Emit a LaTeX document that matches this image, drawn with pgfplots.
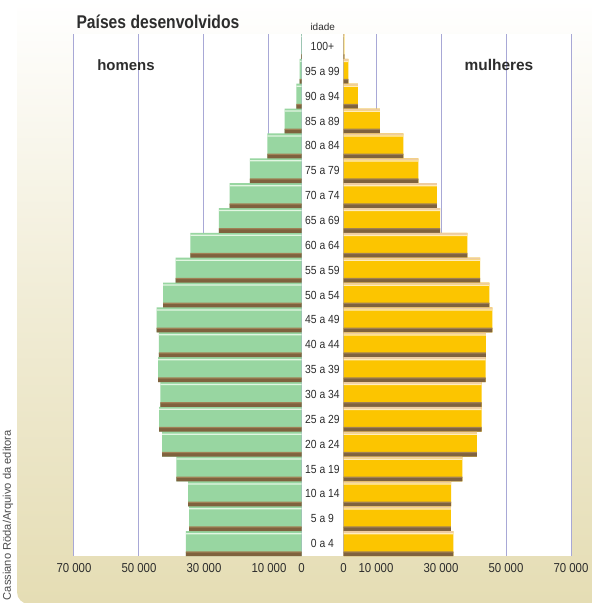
\documentclass[border=0pt]{standalone}
\usepackage{pgfplots}
\pgfplotsset{compat=1.18}
\usepackage{pgfplotstable}
\usepackage{fontspec}
\setmainfont{Liberation Sans}
\newfontfamily\narrow[FakeStretch=0.88]{Liberation Sans}
\newfontfamily\cond[FakeStretch=0.85]{Liberation Sans}

\definecolor{gmain}{RGB}{152,214,161}
\definecolor{ymain}{RGB}{252,197,0}
\definecolor{brownb}{RGB}{127,98,62}
\definecolor{brownl}{RGB}{160,128,85}
\definecolor{tanb}{RGB}{238,204,160}
\definecolor{gline}{RGB}{226,246,226}
\definecolor{yline}{RGB}{255,236,190}
\definecolor{gridc}{RGB}{168,168,214}
\definecolor{cream}{RGB}{229,221,180}
\definecolor{txt}{RGB}{45,45,45}

\pgfplotstableread{
i men women
0 35600 33800
1 34600 33000
2 34900 33100
3 38500 36600
4 42900 41000
5 43800 42500
6 43400 42500
7 44100 43700
8 43900 43800
9 44600 45800
10 42600 44900
11 38700 42000
12 34200 38100
13 25400 29700
14 22100 28700
15 15900 23000
16 10500 18400
17 5200 11200
18 1600 4400
19 550 1500
20 150 250
}\data

\pgfplotsset{pyr/.style={
  xbar, scale only axis, width=227.5bp, height=522bp,
  xmin=0, xmax=70000, ymin=-0.5, ymax=20.5,
  axis line style={draw=none},
  xtick={0,10000,30000,50000,70000},
  xticklabels={0,10 000,30 000,50 000,70 000},
  xmajorgrids, grid style={gridc, line width=1bp},
  major tick length=0pt,
  xticklabel style={font=\narrow\fontsize{13}{14}\selectfont, text=txt, yshift=-4bp},
  scaled x ticks=false,
}}

\begin{document}
\begin{tikzpicture}
\useasboundingbox (0,0) rectangle (592bp,-603bp);
\fill[white] (0,0) rectangle (592bp,-603bp);
\shade[rounded corners=12bp, top color=white, bottom color=cream, middle color=cream!55] (17bp,0bp) rectangle (620bp,-604bp);
\fill[white] (74bp,-34bp) rectangle (571bp,-556bp);

% left: homens
\begin{axis}[pyr, x dir=reverse, at={(74bp,-556bp)}, anchor=south west,
  ytick={0,...,20},
  yticklabels={0 a 4,5 a 9,10 a 14,15 a 19,20 a 24,25 a 29,30 a 34,35 a 39,40 a 44,45 a 49,50 a 54,55 a 59,60 a 64,65 a 69,70 a 74,75 a 79,80 a 84,85 a 89,90 a 94,95 a 99,100+},
  yticklabel pos=right,
  yticklabel style={anchor=center, xshift=20.9bp, font=\narrow\fontsize{11.8}{12}\selectfont, text=txt},
]
\addplot[fill=gmain, draw=none, bar width=1, bar shift=0] table[x=men,y=i]{\data};
\addplot[fill=brownb, draw=none, bar width=0.16, bar shift=-0.42] table[x=men,y=i]{\data};
\addplot[fill=brownl, draw=none, bar width=0.05, bar shift=-0.335] table[x=men,y=i]{\data};
\addplot[fill=gline, draw=none, bar width=0.05, bar shift=0.40] table[x=men,y=i]{\data};
\end{axis}

% right: mulheres
\begin{axis}[pyr, at={(343.5bp,-556bp)}, anchor=south west, ytick=\empty]
\addplot[fill=ymain, draw=none, bar width=1, bar shift=0] table[x=women,y=i]{\data};
\addplot[fill=brownb, draw=none, bar width=0.16, bar shift=-0.42] table[x=women,y=i]{\data};
\addplot[fill=brownl, draw=none, bar width=0.05, bar shift=-0.335] table[x=women,y=i]{\data};
\addplot[fill=tanb, draw=none, bar width=0.08, bar shift=0.46] table[x=women,y=i]{\data};
\addplot[fill=yline, draw=none, bar width=0.05, bar shift=0.395] table[x=women,y=i]{\data};
\end{axis}

\node[anchor=base west, font=\cond\bfseries\fontsize{18.5}{20}\selectfont, text=txt] at (73bp,-28bp) {Países desenvolvidos};
\node[anchor=base, font=\bfseries\fontsize{15}{17}\selectfont, text=txt] at (126bp,-70.5bp) {homens};
\node[anchor=base, font=\bfseries\fontsize{15.5}{17}\selectfont, text=txt] at (499bp,-70.5bp) {mulheres};
\node[anchor=center, font=\fontsize{10}{11}\selectfont, text=txt] at (322.7bp,-27bp) {idade};
\node[rotate=90, anchor=base east, inner sep=0pt, font=\fontsize{11.2}{12}\selectfont, text=black!70] at (10.8bp,-430bp) {Cassiano Röda/Arquivo da editora};
\end{tikzpicture}
\end{document}
